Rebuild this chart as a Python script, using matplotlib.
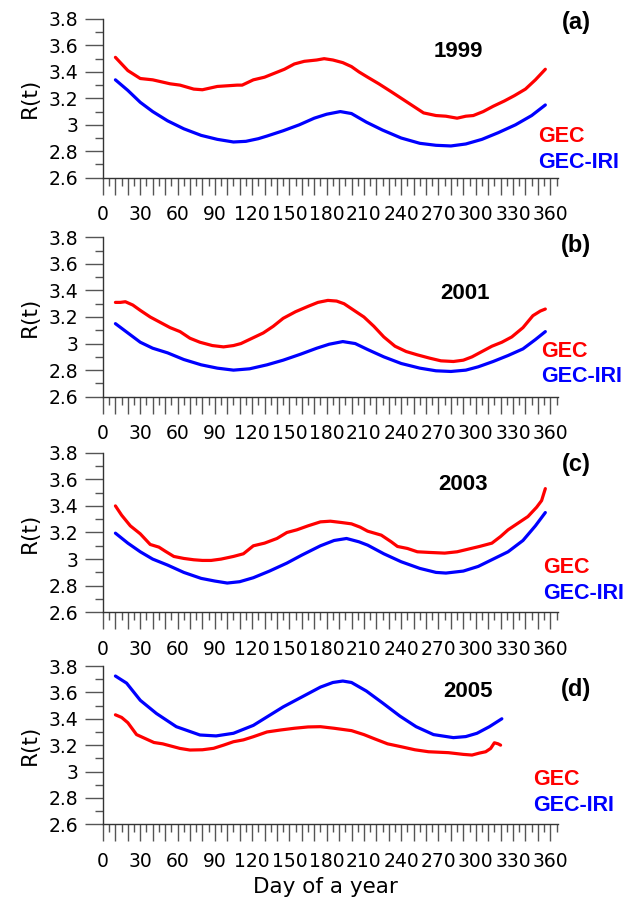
import matplotlib
matplotlib.use("Agg")
import matplotlib.pyplot as plt
from matplotlib.ticker import FixedLocator, MultipleLocator, FuncFormatter

# ---------------- data ----------------
years = ["1999", "2001", "2003", "2005"]
panel_tags = ["(a)", "(b)", "(c)", "(d)"]
series_names = ["GEC", "GEC-IRI"]

# 1999
day_a_gec = [10, 14, 20, 30, 40, 54, 62, 73, 80, 92, 108, 112, 121, 130, 138, 146, 154, 162, 172, 178,
             185, 193, 200, 206, 213, 222, 232, 245, 258, 268, 276, 285, 292, 298, 306, 314, 323, 331,
             340, 348, 356]
gec_a = [3.51, 3.47, 3.41, 3.35, 3.34, 3.31, 3.30, 3.27, 3.265, 3.29, 3.30, 3.30, 3.34, 3.36, 3.39, 3.42,
         3.46, 3.48, 3.49, 3.50, 3.49, 3.47, 3.44, 3.40, 3.36, 3.31, 3.25, 3.17, 3.09, 3.07, 3.065, 3.05,
         3.065, 3.07, 3.10, 3.14, 3.18, 3.22, 3.27, 3.34, 3.42]
day_a_iri = [10, 20, 30, 40, 52, 65, 79, 92, 105, 115, 125, 132, 145, 158, 170, 180, 191, 200, 212, 225,
             240, 255, 268, 280, 292, 305, 318, 332, 345, 356]
iri_a = [3.34, 3.26, 3.17, 3.10, 3.03, 2.97, 2.92, 2.89, 2.87, 2.875, 2.895, 2.915, 2.955, 3.00, 3.05,
         3.08, 3.10, 3.085, 3.02, 2.96, 2.90, 2.86, 2.845, 2.84, 2.855, 2.89, 2.94, 3.00, 3.07, 3.15]

# 2001
day_b_gec = [10, 14, 18, 24, 30, 38, 46, 54, 62, 70, 78, 88, 97, 105, 111, 120, 129, 137, 145, 155, 165,
             173, 181, 188, 194, 202, 210, 218, 226, 235, 244, 253, 263, 272, 282, 290, 297, 305, 313,
             321, 329, 338, 346, 352, 356]
gec_b = [3.31, 3.31, 3.315, 3.29, 3.25, 3.20, 3.16, 3.12, 3.09, 3.04, 3.01, 2.985, 2.975, 2.985, 3.00,
         3.04, 3.08, 3.13, 3.19, 3.24, 3.28, 3.31, 3.325, 3.32, 3.30, 3.25, 3.20, 3.13, 3.05, 2.98, 2.94,
         2.915, 2.89, 2.87, 2.865, 2.875, 2.90, 2.94, 2.98, 3.01, 3.05, 3.12, 3.21, 3.245, 3.26]
day_b_iri = [10, 20, 30, 40, 52, 65, 79, 92, 105, 118, 132, 145, 159, 172, 182, 193, 203, 213, 226, 240,
             255, 268, 280, 292, 302, 314, 326, 338, 348, 356]
iri_b = [3.15, 3.08, 3.01, 2.965, 2.93, 2.88, 2.84, 2.815, 2.80, 2.81, 2.84, 2.875, 2.92, 2.965, 2.995,
         3.015, 3.00, 2.955, 2.90, 2.85, 2.815, 2.795, 2.79, 2.80, 2.825, 2.865, 2.91, 2.96, 3.03, 3.09]

# 2003
day_c_gec = [10, 15, 22, 30, 38, 45, 50, 57, 65, 73, 80, 87, 95, 105, 113, 121, 130, 140, 148, 156, 165,
             175, 183, 192, 200, 207, 213, 224, 232, 237, 245, 253, 263, 275, 285, 294, 303, 313, 320,
             326, 334, 342, 349, 353, 356]
gec_c = [3.40, 3.33, 3.25, 3.19, 3.11, 3.09, 3.06, 3.02, 3.005, 2.995, 2.99, 2.99, 3.00, 3.02, 3.04,
         3.10, 3.12, 3.155, 3.20, 3.22, 3.25, 3.28, 3.285, 3.275, 3.265, 3.24, 3.21, 3.18, 3.13, 3.095,
         3.08, 3.055, 3.05, 3.045, 3.055, 3.075, 3.095, 3.12, 3.17, 3.22, 3.27, 3.32, 3.39, 3.44, 3.53]
day_c_iri = [10, 20, 30, 40, 52, 65, 79, 90, 100, 110, 121, 134, 148, 160, 175, 186, 196, 206, 213, 226,
             240, 255, 268, 276, 290, 302, 314, 326, 338, 348, 356]
iri_c = [3.195, 3.12, 3.055, 3.00, 2.955, 2.90, 2.855, 2.835, 2.82, 2.83, 2.86, 2.91, 2.97, 3.03, 3.10,
         3.14, 3.155, 3.13, 3.105, 3.04, 2.98, 2.93, 2.90, 2.895, 2.91, 2.945, 3.00, 3.055, 3.14, 3.25,
         3.35]

# 2005
day_d_gec = [10, 15, 20, 27, 34, 41, 48, 54, 62, 70, 80, 89, 97, 105, 113, 121, 132, 143, 154, 165,
             175, 186, 200, 210, 218, 229, 240, 251, 262, 278, 290, 297, 303, 308, 312, 315, 318, 320]
gec_d = [3.43, 3.41, 3.37, 3.28, 3.25, 3.22, 3.21, 3.195, 3.175, 3.163, 3.165, 3.176, 3.20, 3.226, 3.24,
         3.264, 3.30, 3.315, 3.328, 3.338, 3.34, 3.328, 3.31, 3.28, 3.25, 3.21, 3.188, 3.165, 3.15,
         3.143, 3.13, 3.125, 3.14, 3.15, 3.175, 3.218, 3.21, 3.20]
day_d_iri = [10, 19, 30, 43, 59, 78, 91, 105, 121, 145, 159, 175, 185, 193, 200, 212, 225, 239, 252,
             266, 282, 292, 301, 311, 321]
iri_d = [3.724, 3.67, 3.54, 3.44, 3.34, 3.277, 3.27, 3.29, 3.35, 3.49, 3.56, 3.64, 3.675, 3.686, 3.675,
         3.61, 3.52, 3.42, 3.34, 3.28, 3.257, 3.265, 3.29, 3.34, 3.40]

gec_days = [day_a_gec, day_b_gec, day_c_gec, day_d_gec]
gec_vals = [gec_a, gec_b, gec_c, gec_d]
iri_days = [day_a_iri, day_b_iri, day_c_iri, day_d_iri]
iri_vals = [iri_a, iri_b, iri_c, iri_d]

# text placement (data coords): year label, tag, legend
year_pos = [(286, 3.553), (291, 3.38), (290, 3.56), (294, 3.605)]
tag_y = [3.77, 3.74, 3.71, 3.62]
legend_pos = [(350, 2.915, 2.715), (353, 2.94, 2.75), (354, 2.94, 2.74), (346, 2.94, 2.74)]

# ---------------- figure ----------------
W, H = 628, 900
fig = plt.figure(figsize=(W / 100, H / 100), dpi=100)
fig.patch.set_facecolor("white")

x0_px = 103
px_per_day = 1.2425
xmax = 366
ax_w_px = xmax * px_per_day
panel_px = [(19, 177.7), (237.3, 396.7), (452.7, 612.3), (666, 824.3)]

RED = "#FF0000"
BLUE = "#0000FF"
SPINE = "#333333"
TICK = "#555555"
bold_font = ["Liberation Sans", "DejaVu Sans"]

def xfmt(v, pos):
    iv = int(round(v))
    return str(iv) if iv % 30 == 0 else ""

def yfmt(v, pos):
    return "%g" % round(v, 2)

for i in range(4):
    top, bot = panel_px[i]
    ax = fig.add_axes([x0_px / W, 1 - bot / H, ax_w_px / W, (bot - top) / H])
    ax.plot(gec_days[i], gec_vals[i], color=RED, lw=2.3, solid_capstyle="round")
    ax.plot(iri_days[i], iri_vals[i], color=BLUE, lw=2.3, solid_capstyle="round")
    ax.set_xlim(0, xmax)
    ax.set_ylim(2.6, 3.8)
    for s in ["top", "right"]:
        ax.spines[s].set_visible(False)
    for s in ["left", "bottom"]:
        ax.spines[s].set_color(SPINE)
        ax.spines[s].set_linewidth(1.0)
    ax.xaxis.set_major_locator(FixedLocator(list(range(0, 361, 10))))
    ax.xaxis.set_minor_locator(FixedLocator(list(range(5, 366, 10))))
    ax.xaxis.set_major_formatter(FuncFormatter(xfmt))
    ax.yaxis.set_major_locator(MultipleLocator(0.2))
    ax.yaxis.set_minor_locator(MultipleLocator(0.1))
    ax.yaxis.set_major_formatter(FuncFormatter(yfmt))
    ax.tick_params(axis="x", which="major", direction="out", length=12, width=1.0, color=TICK,
                   labelsize=13.5, pad=8, labelcolor="black")
    ax.tick_params(axis="x", which="minor", direction="out", length=6, width=1.0, color=TICK)
    ax.tick_params(axis="y", which="major", direction="out", length=13, width=1.0, color=TICK,
                   labelsize=13.5, pad=5, labelcolor="black")
    ax.tick_params(axis="y", which="minor", direction="out", length=6, width=1.0, color=TICK)
    for lab in ax.get_xticklabels() + ax.get_yticklabels():
        lab.set_family("DejaVu Sans")
    ax.set_ylabel("R(t)", fontsize=15.5, family="DejaVu Sans")
    ax.yaxis.set_label_coords((40 - x0_px) / ax_w_px, 0.5)

    yx, yy = year_pos[i]
    ax.text(yx, yy, years[i], ha="center", va="center", fontsize=16, fontweight="bold",
            family=bold_font, color="black")
    ax.text(381, tag_y[i], panel_tags[i], ha="center", va="center", fontsize=17, fontweight="bold",
            family=bold_font, color="black", clip_on=False)
    lx, ly1, ly2 = legend_pos[i]
    ax.text(lx, ly1, series_names[0], ha="left", va="center", fontsize=15.5, fontweight="bold",
            family=bold_font, color=RED, clip_on=False)
    ax.text(lx, ly2, series_names[1], ha="left", va="center", fontsize=15.5, fontweight="bold",
            family=bold_font, color=BLUE, clip_on=False)
    ax.patch.set_alpha(0)

fig.text(325 / W, 1 - 886.7 / H, "Day of a year", ha="center", va="center", fontsize=15.5,
         family="DejaVu Sans")

fig.savefig("out.png", dpi=100, facecolor="white")
